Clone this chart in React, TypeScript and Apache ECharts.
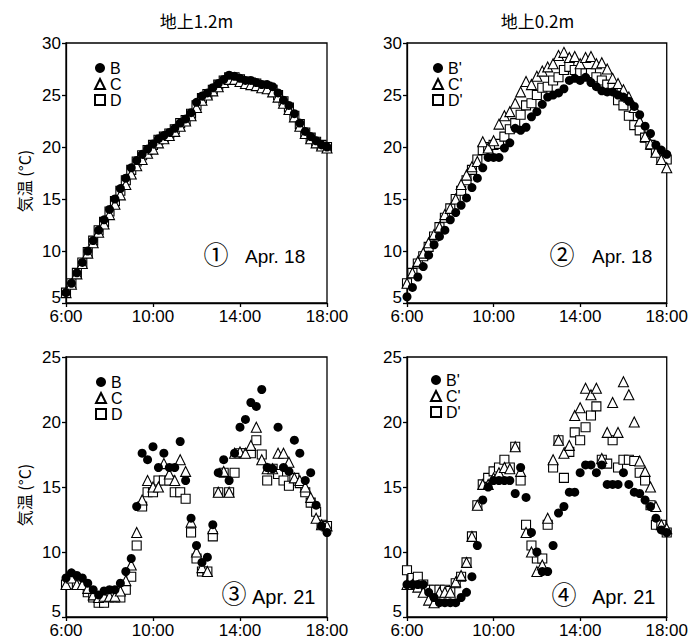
import React, { useEffect, useRef } from 'react';
import * as echarts from 'echarts';

// Sampling: every 15 minutes from 6:00 (index 0) to 18:00 (index 48)
const X_TICK_LABELS = ['6:00', '10:00', '14:00', '18:00'];
const PANEL_TITLES = ['地上1.2m', '地上0.2m'];
const Y_NAME = '気温 (°C)';
const NAMES_HIGH = ['B', 'C', 'D'];
const NAMES_LOW = ["B'", "C'", "D'"];
const DATE_LABELS = ['Apr. 18', 'Apr. 18', 'Apr. 21', 'Apr. 21'];
const PANEL_MARKS = ['①', '②', '③', '④'];

// Panel 1: Apr 18, 1.2 m
const P1_B = [6.0, 6.9, 7.9, 8.9, 10.0, 11.0, 12.0, 13.0, 14.0, 15.0, 16.0, 17.0, 18.0, 18.7, 19.3, 19.8, 20.3, 20.8, 21.1, 21.4, 21.8, 22.3, 22.7, 23.3, 24.3, 24.9, 25.2, 25.7, 26.1, 26.5, 26.9, 26.8, 26.6, 26.4, 26.4, 26.2, 26.0, 26.0, 25.8, 25.2, 24.5, 24.0, 23.2, 22.3, 21.5, 21.0, 20.6, 20.2, 20.0];
const P1_C = [6.0, 6.8, 7.8, 8.8, 9.8, 10.8, 11.8, 12.6, 13.5, 14.5, 15.4, 16.4, 17.4, 18.2, 18.8, 19.4, 19.8, 20.4, 20.8, 21.1, 21.5, 22.0, 22.5, 23.0, 23.8, 24.5, 25.0, 25.4, 25.8, 26.2, 26.5, 26.5, 26.3, 26.1, 26.0, 25.9, 25.7, 25.6, 25.3, 24.8, 24.2, 23.6, 22.9, 22.0, 21.3, 20.8, 20.4, 20.1, 19.9];
const P1_D = [6.0, 6.9, 7.9, 8.9, 9.9, 11.0, 12.0, 12.8, 13.8, 14.8, 15.8, 16.8, 17.8, 18.6, 19.2, 19.7, 20.2, 20.7, 21.0, 21.3, 21.7, 22.3, 22.6, 23.2, 24.0, 24.7, 25.1, 25.5, 26.0, 26.4, 26.7, 26.7, 26.5, 26.3, 26.2, 26.1, 25.9, 25.8, 25.5, 25.0, 24.4, 23.8, 23.0, 22.2, 21.4, 20.9, 20.5, 20.2, 20.0];

// Panel 2: Apr 18, 0.2 m
const P2_B = [5.6, 6.5, 7.5, 8.5, 9.6, 10.6, 11.4, 12.0, 13.0, 13.7, 14.4, 15.1, 16.1, 17.0, 18.0, 19.0, 19.0, 19.0, 19.9, 20.4, 21.8, 21.6, 21.9, 22.9, 23.4, 24.1, 24.8, 25.0, 25.2, 25.6, 26.4, 26.6, 26.4, 26.7, 26.2, 25.8, 25.4, 25.3, 25.3, 25.0, 24.8, 24.4, 23.9, 23.1, 22.0, 21.3, 20.2, 19.7, 19.3];
const P2_C = [6.9, 7.9, 9.0, 9.8, 10.8, 11.6, 12.3, 13.5, 14.1, 15.0, 16.4, 17.3, 18.1, 18.6, 20.5, 19.9, 20.6, 22.2, 23.0, 23.4, 24.2, 25.3, 26.3, 26.0, 26.8, 27.3, 27.7, 28.0, 28.8, 29.1, 28.6, 28.7, 28.0, 28.6, 28.7, 28.0, 28.1, 27.5, 26.6, 26.1, 25.5, 24.8, 23.8, 22.5, 21.0, 20.3, 19.5, 18.8, 18.0];
const P2_D = [6.9, 7.9, 8.8, 9.5, 10.4, 11.4, 12.3, 13.2, 14.1, 15.0, 15.8, 16.8, 17.8, 18.8, 19.7, 20.0, 20.2, 20.3, 21.0, 21.7, 22.3, 23.1, 24.0, 24.2, 25.0, 25.7, 25.8, 26.4, 26.7, 27.4, 27.7, 27.4, 27.2, 27.1, 27.1, 26.7, 26.4, 26.0, 25.7, 24.5, 24.0, 23.0, 22.1, 21.6, 20.9, 20.2, 19.5, 18.9, 18.8];

// Panel 3: Apr 21, 1.2 m
const P3_B = [8.0, 8.4, 8.2, 8.0, 7.6, 7.1, 6.7, 7.0, 7.1, 7.1, 7.6, 8.5, 9.5, 13.5, 17.6, 17.1, 18.1, 16.5, 17.6, 16.5, 16.5, 18.5, 15.5, 12.6, 10.5, 9.2, 9.6, 12.1, 16.1, 17.1, 15.5, 17.6, 19.6, 20.2, 21.5, 21.2, 22.5, 16.5, 16.4, 19.6, 16.5, 16.2, 18.6, 17.6, 15.5, 16.1, 13.6, 12.0, 11.5];
const P3_C = [7.5, 8.0, 7.5, 7.5, 7.2, 6.7, 6.5, 6.6, 6.6, 6.6, 7.0, 7.8, 9.0, 11.5, 14.0, 15.5, 15.0, 15.0, 16.8, 16.0, 15.5, 17.1, 16.2, 12.3, 10.0, 8.8, 8.5, 11.8, 14.6, 16.2, 14.6, 17.6, 17.7, 17.6, 18.2, 19.6, 17.1, 16.4, 16.4, 17.6, 17.6, 16.9, 15.7, 15.5, 15.0, 14.2, 12.6, 12.1, 12.0];
const P3_D = [7.5, 7.5, 7.5, 7.5, 6.9, 6.5, 6.1, 6.1, 6.5, 6.5, 6.5, 7.1, 8.1, 10.5, 13.5, 14.6, 14.6, 15.5, 15.5, 15.5, 14.6, 14.6, 14.1, 11.5, 9.5, 8.5, 8.5, 11.2, 14.6, 16.1, 14.6, 16.1, 17.6, 17.6, 17.6, 18.6, 17.5, 15.5, 16.4, 16.0, 15.5, 15.1, 15.7, 15.3, 14.6, 13.8, 13.1, 12.1, 12.0];

// Panel 4: Apr 21, 0.2 m
const P4_B = [7.5, 7.5, 7.5, 7.5, 6.9, 6.5, 6.1, 6.1, 6.1, 6.1, 6.5, 6.9, 8.1, 10.5, 14.0, 15.0, 15.5, 15.5, 15.5, 15.5, 14.5, 16.5, 14.2, 11.5, 10.0, 8.5, 8.5, 10.5, 13.0, 13.5, 14.6, 14.6, 16.1, 16.7, 16.7, 16.1, 16.7, 15.2, 15.2, 15.2, 16.1, 15.2, 14.6, 14.5, 14.0, 13.5, 12.6, 11.7, 11.5];
const P4_C = [7.5, 7.5, 7.3, 6.9, 6.3, 6.1, 6.9, 6.9, 6.9, 7.7, 8.2, 9.2, 11.2, 13.6, 15.2, 15.2, 15.7, 16.1, 16.5, 16.4, 18.1, 16.2, 11.5, 10.0, 8.5, 9.0, 12.6, 17.1, 18.6, 17.6, 18.2, 20.5, 21.1, 22.6, 22.1, 22.6, 17.2, 19.2, 21.5, 19.2, 23.1, 22.1, 20.0, 17.0, 16.2, 15.0, 13.5, 12.1, 11.8];
const P4_D = [8.6, 8.0, 8.1, 7.5, 7.1, 7.1, 7.1, 7.1, 7.0, 7.6, 8.1, 9.2, 11.2, 13.6, 15.2, 15.7, 16.2, 16.5, 17.1, 16.5, 18.1, 15.5, 12.1, 10.5, 9.5, 9.5, 12.1, 16.5, 18.6, 15.7, 17.7, 19.2, 18.6, 19.6, 20.5, 21.2, 17.1, 16.8, 18.6, 16.5, 17.1, 17.1, 17.0, 16.1, 15.5, 13.6, 12.1, 12.1, 11.5];

const Y_RANGES = [[5, 30], [5, 30], [5, 25], [5, 25]];

const LATIN = '"Liberation Sans", Arial, Helvetica, sans-serif';
const CJK = '"Noto Sans CJK JP", "Liberation Sans", sans-serif';

const GRIDS = [
  { left: 66, top: 43, width: 261, height: 260 },
  { left: 407, top: 43, width: 261, height: 260 },
  { left: 66, top: 357, width: 261, height: 260 },
  { left: 407, top: 357, width: 261, height: 260 },
];

const PANEL_DATA = [
  [P1_B, P1_C, P1_D],
  [P2_B, P2_C, P2_D],
  [P3_B, P3_C, P3_D],
  [P4_B, P4_C, P4_D],
];

const SYMBOLS = [
  { symbol: 'circle', size: 9, fill: '#000' },
  { symbol: 'triangle', size: 10, fill: '#fff' },
  { symbol: 'rect', size: 9, fill: '#fff' },
];

export default function App() {
  const ref = useRef<HTMLDivElement>(null);

  useEffect(() => {
    if (!ref.current) return;
    const chart = echarts.init(ref.current, undefined, { renderer: 'svg' });

    const lineStyle = { color: '#000', width: 1.3 };

    const xAxes = GRIDS.map((_, p) => ({
      type: 'value',
      gridIndex: p,
      min: 0,
      max: 12,
      interval: 4,
      axisLine: { show: true, onZero: false, lineStyle },
      axisTick: { show: true, inside: false, length: 4, lineStyle },
      splitLine: { show: false },
      axisLabel: {
        margin: 5,
        fontSize: 17,
        fontFamily: LATIN,
        color: '#000',
        formatter: (v: number) => X_TICK_LABELS[Math.round(v / 4)],
      },
    }));

    const yAxes = GRIDS.map((_, p) => ({
      type: 'value',
      gridIndex: p,
      min: Y_RANGES[p][0],
      max: Y_RANGES[p][1],
      interval: 5,
      axisLine: { show: true, onZero: false, lineStyle },
      axisTick: { show: true, inside: false, length: 4, lineStyle },
      splitLine: { show: false },
      axisLabel: {
        margin: 5,
        fontSize: 17,
        fontFamily: LATIN,
        color: '#000',
        formatter: (v: number) => (v === Y_RANGES[p][0] ? `{low|${v}}` : `${v}`),
        rich: {
          low: { fontSize: 17, fontFamily: LATIN, color: '#000', padding: [0, 0, 12, 0] },
        },
      },
    }));

    const series: any[] = [];
    PANEL_DATA.forEach((arrs, p) => {
      const names = p % 2 === 0 ? NAMES_HIGH : NAMES_LOW;
      // draw D, then C, then B on top
      [2, 1, 0].forEach((k) => {
        const s = SYMBOLS[k];
        series.push({
          type: 'scatter',
          name: names[k],
          xAxisIndex: p,
          yAxisIndex: p,
          symbol: s.symbol,
          symbolSize: s.size,
          itemStyle: {
            color: s.fill,
            borderColor: '#000',
            borderWidth: k === 0 ? 0 : 1.1,
            opacity: 1,
          },
          emphasis: { disabled: true },
          data: arrs[k].map((v, i) => [i / 4, v]),
        });
      });
    });

    const legendPos = [
      { left: 94, top: 60 },
      { left: 432, top: 60 },
      { left: 95, top: 374 },
      { left: 430, top: 372 },
    ];
    const legends = legendPos.map((pos, p) => ({
      ...pos,
      orient: 'vertical',
      itemWidth: 10,
      itemHeight: 10,
      itemGap: 0,
      padding: 0,
      selectedMode: false,
      data: p % 2 === 0 ? NAMES_HIGH : NAMES_LOW,
      textStyle: { fontSize: 16, lineHeight: 16, fontFamily: LATIN, color: '#000' },
    }));

    const graphics: any[] = [];
    // column titles
    PANEL_TITLES.forEach((t, c) => {
      const g = GRIDS[c];
      graphics.push({
        type: 'text',
        x: g.left + g.width / 2,
        y: 20,
        style: { text: t, font: `17px ${CJK}`, fill: '#000', align: 'center', verticalAlign: 'middle' },
      });
    });
    // y axis names
    [0, 2].forEach((p) => {
      const g = GRIDS[p];
      graphics.push({
        type: 'text',
        x: 24,
        y: g.top + g.height / 2 + 8,
        rotation: Math.PI / 2,
        style: { text: Y_NAME, font: `16px ${CJK}`, fill: '#000', align: 'center', verticalAlign: 'middle' },
      });
    });
    // panel marks and dates
    const markPos = [
      { mx: 216, my: 253, dx: 245, dy: 256, fs: 19 },
      { mx: 562, my: 253, dx: 592, dy: 256, fs: 19 },
      { mx: 234, my: 592, dx: 252, dy: 597, fs: 20 },
      { mx: 564, my: 593, dx: 592, dy: 597, fs: 20 },
    ];
    markPos.forEach((m, p) => {
      graphics.push({
        type: 'text',
        x: m.mx,
        y: m.my,
        style: { text: PANEL_MARKS[p], font: `25px ${CJK}`, fill: '#000', align: 'center', verticalAlign: 'middle' },
      });
      graphics.push({
        type: 'text',
        x: m.dx,
        y: m.dy,
        style: { text: DATE_LABELS[p], font: `${m.fs}px ${LATIN}`, fill: '#000', align: 'left', verticalAlign: 'middle' },
      });
    });

    chart.setOption({
      animation: false,
      backgroundColor: '#fff',
      grid: GRIDS.map((g) => ({ ...g, show: true, borderColor: '#000', borderWidth: 1.3, backgroundColor: 'transparent' })),
      xAxis: xAxes,
      yAxis: yAxes,
      legend: legends,
      series,
      graphic: graphics,
    });

    return () => chart.dispose();
  }, []);

  return (
    <div
      ref={ref}
      style={{ position: 'absolute', left: 0, top: 0, width: 691, height: 639, background: '#fff' }}
    />
  );
}
